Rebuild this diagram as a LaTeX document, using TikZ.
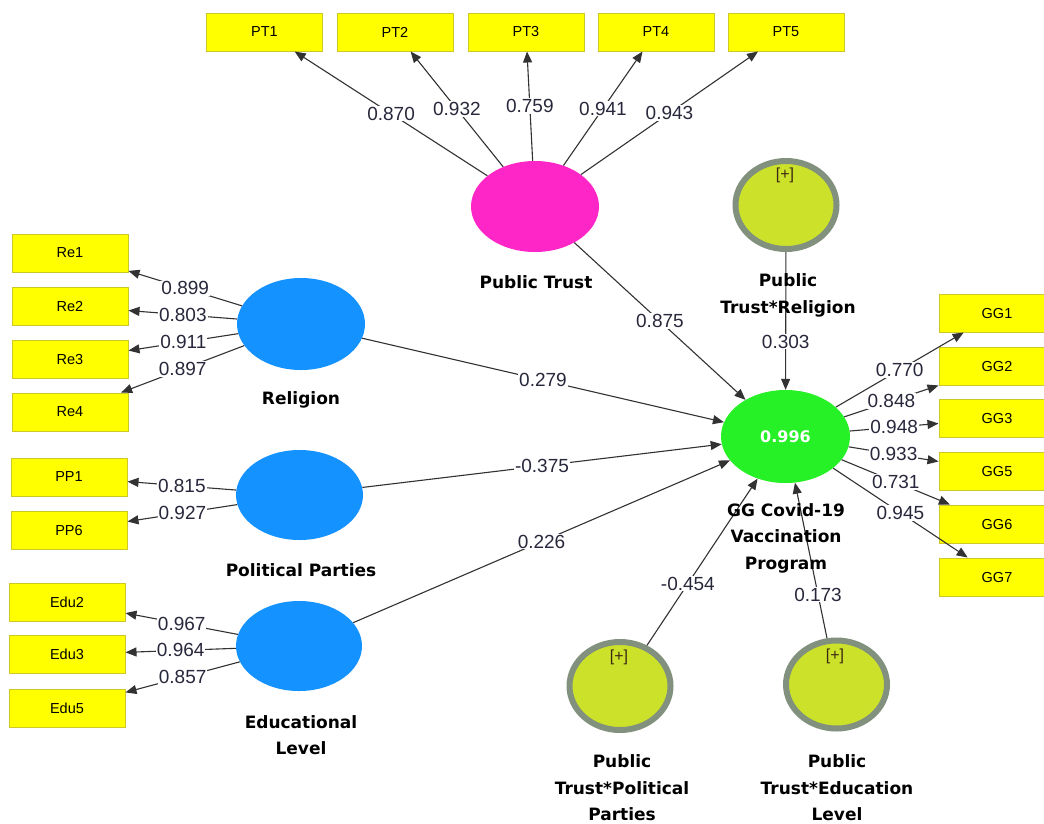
\documentclass[tikz,border=0pt]{standalone}
\usepackage{fontspec}
\setmainfont{Liberation Sans}
\newfontfamily\djb{DejaVu Sans}
\usetikzlibrary{shapes.geometric,arrows.meta}

\definecolor{boxfill}{RGB}{255,255,0}
\definecolor{boxdraw}{RGB}{205,200,40}
\definecolor{ptpink}{RGB}{255,38,200}
\definecolor{lvblue}{RGB}{20,146,255}
\definecolor{ggreen}{RGB}{38,240,38}
\definecolor{modfill}{RGB}{204,226,42}
\definecolor{modring}{RGB}{130,145,125}
\definecolor{edgec}{RGB}{50,50,50}
\definecolor{lblc}{RGB}{40,40,60}
\definecolor{plusc}{RGB}{60,40,20}

\tikzset{
 ind/.style={rectangle, fill=boxfill, draw=boxdraw, line width=1pt, minimum width=116pt, minimum height=38pt, inner sep=0pt, font=\fontsize{14.5}{16}\selectfont},
 lat/.style={ellipse, minimum width=128pt, minimum height=91pt, inner sep=0pt},
 modn/.style={ellipse, fill=modfill, draw=modring, line width=6pt, minimum width=101pt, minimum height=88pt, inner sep=0pt},
 ttl/.style={align=center, font=\djb\bfseries\fontsize{17}{26.5}\selectfont},
 arr/.style={draw=edgec, line width=1.1pt, -{Triangle[length=11pt,width=9pt]}},
 lbl/.style={fill=white, inner sep=1pt, text=lblc, font=\fontsize{19}{20}\selectfont},
 plus/.style={font=\fontsize{16}{18}\selectfont, text=plusc}
}

\begin{document}
\begin{tikzpicture}[x=1pt,y=-1pt]
\fill[white] (0,0) rectangle (1044,823);
\useasboundingbox (0,0) rectangle (1044,823);

% indicators
\node[ind] (PT1) at (264.5,32) {PT1};
\node[ind] (PT2) at (395,32) {PT2};
\node[ind] (PT3) at (526,32) {PT3};
\node[ind] (PT4) at (656,32) {PT4};
\node[ind] (PT5) at (786,32) {PT5};

\node[ind] (Re1) at (70,253) {Re1};
\node[ind] (Re2) at (70,306) {Re2};
\node[ind] (Re3) at (70,359.5) {Re3};
\node[ind] (Re4) at (70,412) {Re4};

\node[ind] (PP1) at (69,477) {PP1};
\node[ind] (PP6) at (69,530.5) {PP6};

\node[ind] (Edu2) at (67,602) {Edu2};
\node[ind] (Edu3) at (67,654.5) {Edu3};
\node[ind] (Edu5) at (67,708) {Edu5};

\node[ind] (GG1) at (997,313) {GG1};
\node[ind] (GG2) at (997,366) {GG2};
\node[ind] (GG3) at (997,418.5) {GG3};
\node[ind] (GG5) at (997,471) {GG5};
\node[ind] (GG6) at (997,524) {GG6};
\node[ind] (GG7) at (997,577) {GG7};

% latent variables
\node[lat, fill=ptpink] (PT) at (535,206.5) {};
\node[lat, fill=lvblue, minimum height=92pt] (RE) at (301,324) {};
\node[lat, fill=lvblue, minimum width=127pt, minimum height=90pt] (PP) at (299.5,495) {};
\node[lat, fill=lvblue, minimum width=126pt, minimum height=90pt] (EL) at (299,646) {};
\node[lat, fill=ggreen, minimum width=129pt, minimum height=93pt, text=white, font=\djb\bfseries\fontsize{16}{18}\selectfont] (GG) at (785.5,436.5) {0.996};

% moderators
\node[modn] (M1) at (786,205) {};
\node[modn] (M2) at (620,686) {};
\node[modn] (M3) at (836.5,684.5) {};
\node[plus] (P1) at (785,175) {[+]};
\node[plus] (P2) at (619,657) {[+]};
\node[plus] (P3) at (835,656) {[+]};

% outer loadings
\draw[arr] (PT) -- (PT1) node[lbl,midway]{0.870};
\draw[arr] (PT) -- (PT2) node[lbl,midway]{0.932};
\draw[arr] (PT) -- (PT3) node[lbl,midway]{0.759};
\draw[arr] (PT) -- (PT4) node[lbl,midway]{0.941};
\draw[arr] (PT) -- (PT5) node[lbl,midway]{0.943};

\draw[arr] (RE) -- (Re1) node[lbl,midway]{0.899};
\draw[arr] (RE) -- (Re2) node[lbl,midway]{0.803};
\draw[arr] (RE) -- (Re3) node[lbl,midway]{0.911};
\draw[arr] (RE) -- (Re4) node[lbl,midway]{0.897};

\draw[arr] (PP) -- (PP1) node[lbl,midway]{0.815};
\draw[arr] (PP) -- (PP6) node[lbl,midway]{0.927};

\draw[arr] (EL) -- (Edu2) node[lbl,midway]{0.967};
\draw[arr] (EL) -- (Edu3) node[lbl,midway]{0.964};
\draw[arr] (EL) -- (Edu5) node[lbl,midway]{0.857};

\draw[arr] (GG) -- (GG1) node[lbl,midway]{0.770};
\draw[arr] (GG) -- (GG2) node[lbl,midway]{0.848};
\draw[arr] (GG) -- (GG3) node[lbl,midway]{0.948};
\draw[arr] (GG) -- (GG5) node[lbl,midway]{0.933};
\draw[arr] (GG) -- (GG6) node[lbl,midway]{0.731};
\draw[arr] (GG) -- (GG7) node[lbl,midway]{0.945};

% structural paths
\draw[arr] (PT) -- (GG) node[lbl,midway]{0.875};
\draw[arr] (RE) -- (GG) node[lbl,midway]{0.279};
\draw[arr] (PP) -- (GG) node[lbl,midway]{-0.375};
\draw[arr] (EL) -- (GG) node[lbl,midway]{0.226};
\draw[arr] (M1) -- (GG) node[lbl,pos=0.65]{0.303};
\draw[arr] (M2) -- (GG) node[lbl,pos=0.37]{-0.454};
\draw[arr] (M3) -- (GG) node[lbl,pos=0.28]{0.173};

% titles
\node[ttl] (tPT) at (536,282) {Public Trust};
\node[ttl] (tM1) at (788,295.5) {Public\\Trust*Religion};
\node[ttl] (tRE) at (301,400) {Religion};
\node[ttl] (tPP) at (301,570) {Political Parties};
\node[ttl] (tEL) at (301,735) {Educational\\Level};
\node[ttl] (tGG) at (786,538) {GG Covid-19\\Vaccination\\Program};
\node[ttl] (tM2) at (622,788) {Public\\Trust*Political\\Parties};
\node[ttl] (tM3) at (837,788) {Public\\Trust*Education\\Level};
\end{tikzpicture}
\end{document}
